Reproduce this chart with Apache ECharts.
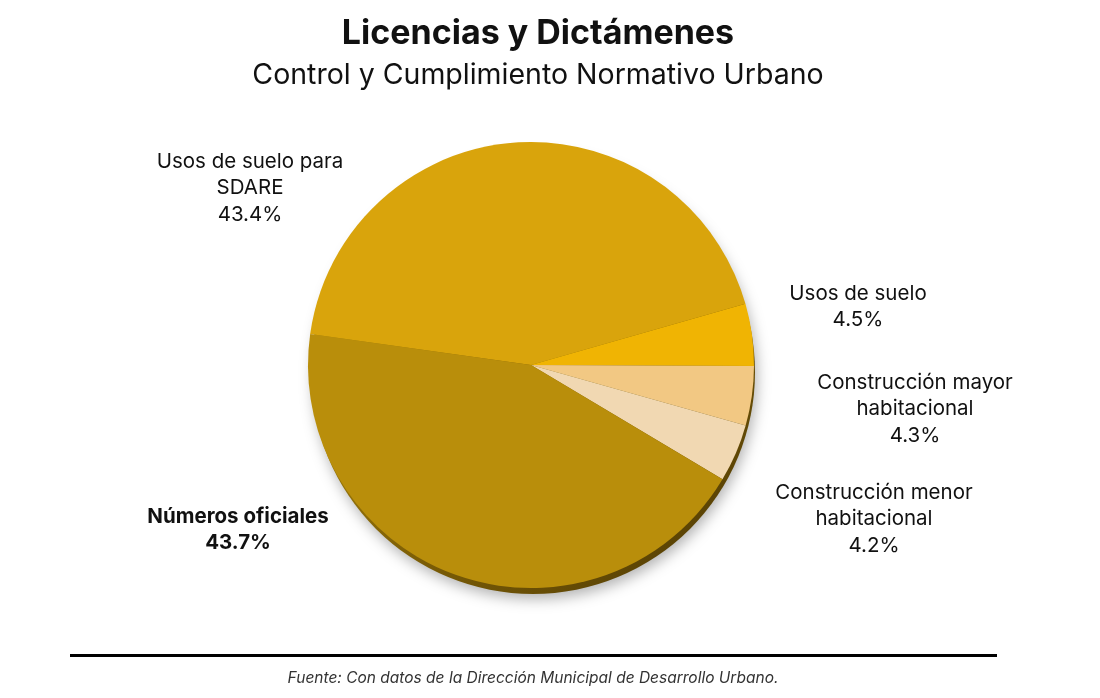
<!DOCTYPE html>
<html>
<head>
<meta charset="utf-8">
<script src="https://cdn.jsdelivr.net/npm/echarts@6/dist/echarts.min.js"></script>
<style>
html,body{margin:0;padding:0;background:#fff;}
#chart{width:1100px;height:698px;}
</style>
</head>
<body>
<div id="chart"></div>
<script>
// ---- data ----
const categories = [
  'Usos de suelo para\nSDARE',
  'Usos de suelo',
  'Construcción mayor\nhabitacional',
  'Construcción menor\nhabitacional',
  'Números oficiales'
];
const values = [43.4, 4.5, 4.3, 4.2, 43.7];
const sliceColors = ['#D9A40C', '#F0B403', '#F2C883', '#F1D8B2', '#B98E0B'];
const boldLabel = [false, false, false, false, true];

// ---- label layout (pixel positions of label centres) ----
const LABEL_POS = [[250, 188], [858, 307], [915, 409], [874, 519], [238, 530]];

const FONT = 'Inter, "Noto Sans", sans-serif';

const chart = echarts.init(document.getElementById('chart'));

const pieData = categories.map((c, i) => ({
  name: c,
  value: values[i],
  itemStyle: { color: sliceColors[i] },
  label: { fontWeight: boldLabel[i] ? 'bold' : 'normal' }
}));

chart.setOption({
  backgroundColor: '#ffffff',
  animation: false,
  title: {
    text: 'Licencias y Dictámenes',
    subtext: 'Control y Cumplimiento Normativo Urbano',
    left: 533,
    textAlign: 'center',
    top: 12,
    itemGap: 10,
    textStyle: { fontFamily: FONT, fontSize: 34, fontWeight: 'bold', color: '#111' },
    subtextStyle: { fontFamily: FONT, fontSize: 28.5, fontWeight: 'normal', color: '#111' }
  },
  graphic: [
    {
      type: 'rect',
      shape: { x: 70, y: 654, width: 927, height: 3 },
      style: { fill: '#000' },
      silent: true
    },
    {
      type: 'text',
      x: 533, y: 678,
      style: {
        text: 'Fuente: Con datos de la Dirección Municipal de Desarrollo Urbano.',
        fontFamily: FONT, fontSize: 15.5, fontStyle: 'italic',
        fill: '#333', align: 'center', verticalAlign: 'middle'
      },
      silent: true
    }
  ],
  series: [
    {
      // base / rim for a subtle 3D look
      type: 'pie',
      silent: true,
      z: 1,
      center: [533, 372],
      radius: 222,
      label: { show: false },
      labelLine: { show: false },
      data: [{
        value: 1,
        itemStyle: {
          color: new echarts.graphic.LinearGradient(0, 0, 1, 1, [
            { offset: 0, color: '#c9a010' },
            { offset: 0.6, color: '#7a5c06' },
            { offset: 1, color: '#4a3604' }
          ]),
          shadowBlur: 14,
          shadowColor: 'rgba(0,0,0,0.3)',
          shadowOffsetX: 2,
          shadowOffsetY: 5
        }
      }]
    },
    {
      type: 'pie',
      z: 2,
      center: [531, 365],
      radius: 223,
      startAngle: 172,
      clockwise: true,
      data: pieData,
      itemStyle: { borderWidth: 0 },
      label: {
        show: true,
        position: 'outside',
        fontFamily: FONT,
        fontSize: 20.5,
        lineHeight: 26.5,
        color: '#111',
        align: 'center',
        formatter: p => p.name + '\n' + p.value.toFixed(1) + '%'
      },
      labelLine: { show: false },
      labelLayout: params => {
        const p = LABEL_POS[params.dataIndex];
        return { x: p[0], y: p[1], align: 'center', verticalAlign: 'middle', hideOverlap: false };
      },
      emphasis: { disabled: true }
    }
  ]
});
</script>
</body>
</html>
